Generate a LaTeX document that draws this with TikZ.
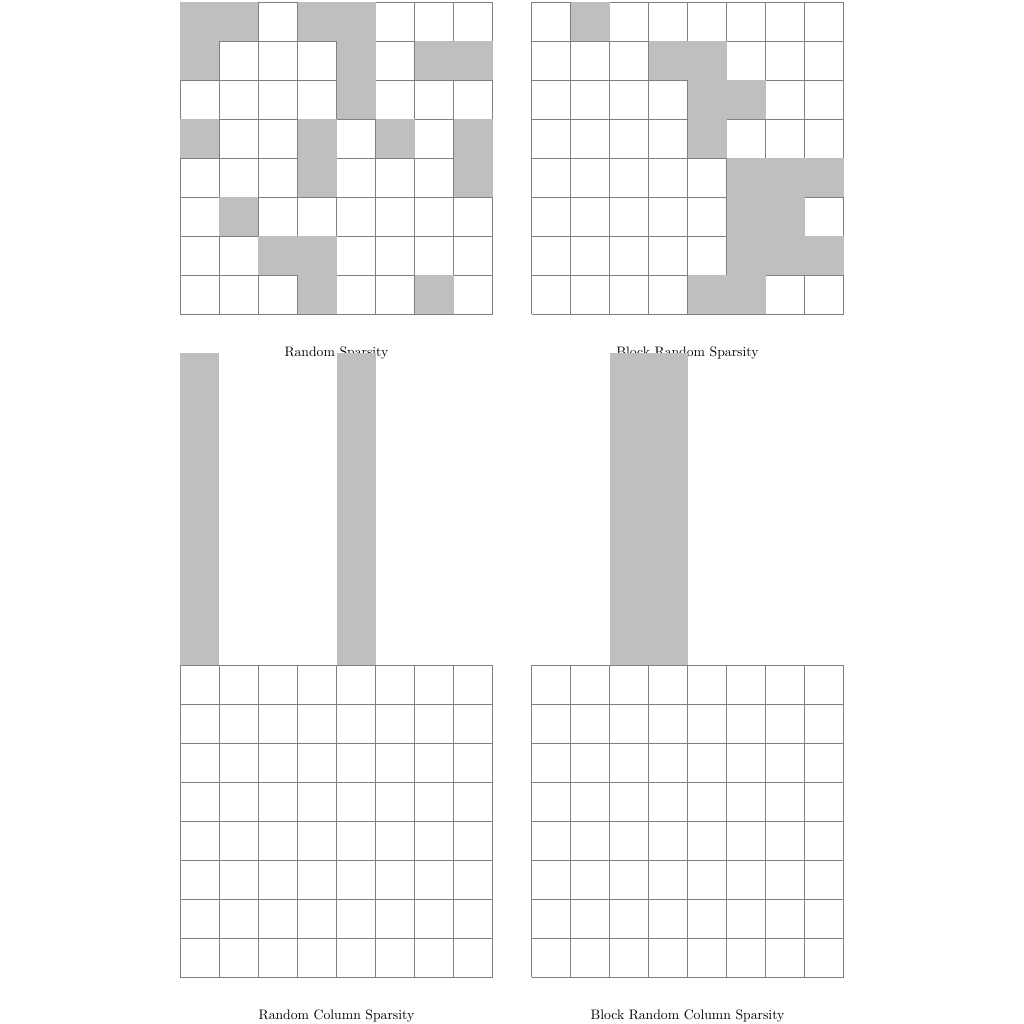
\documentclass[tikz,border=0pt]{standalone}
\begin{document}
\begin{tikzpicture}[
  gridline/.style={draw=gray,line width=0.5pt},
  cellfill/.style={fill=lightgray},
  caption/.style={font=\normalsize,inner sep=0.3333em}
]
\useasboundingbox (-4.628,0.051) rectangle (21.628,-26.205);
% ---------- Random Sparsity ----------
\draw[gridline] (0,0) grid (8,-8);
\foreach \c/\r in {0/0,1/0,3/0,4/0,0/1,4/1,6/1,7/1,4/2,0/3,3/3,5/3,7/3,3/4,7/4,1/5,2/6,3/6,3/7,6/7}
  \fill[cellfill] (\c,-\r) rectangle ++(1,-1);
\node[caption] (capRS) at (4,-9) {Random Sparsity};
% ---------- Block Random Sparsity ----------
\draw[gridline] (9,0) grid (17,-8);
\foreach \c/\r in {1/0,3/1,4/1,4/2,5/2,4/3,5/4,6/4,7/4,5/5,6/5,5/6,6/6,7/6,4/7,5/7}
  \fill[cellfill] (9+\c,-\r) rectangle ++(1,-1);
\node[caption] (capBRS) at (13,-9) {Block Random Sparsity};
% ---------- Random Column Sparsity ----------
\draw[gridline] (0,-17) grid (8,-25);
\node[caption] (capRCS) at (4,-26) {Random Column Sparsity};
% ---------- Block Random Column Sparsity ----------
\draw[gridline] (9,-17) grid (17,-25);
\node[caption] (capBRCS) at (13,-26) {Block Random Column Sparsity};
% ---------- column fills ----------
\fill[cellfill] (0,-9) rectangle (1,-17);
\fill[cellfill] (4,-9) rectangle (5,-17);
\fill[cellfill] (11,-9) rectangle (13,-17);
\end{tikzpicture}
\end{document}
